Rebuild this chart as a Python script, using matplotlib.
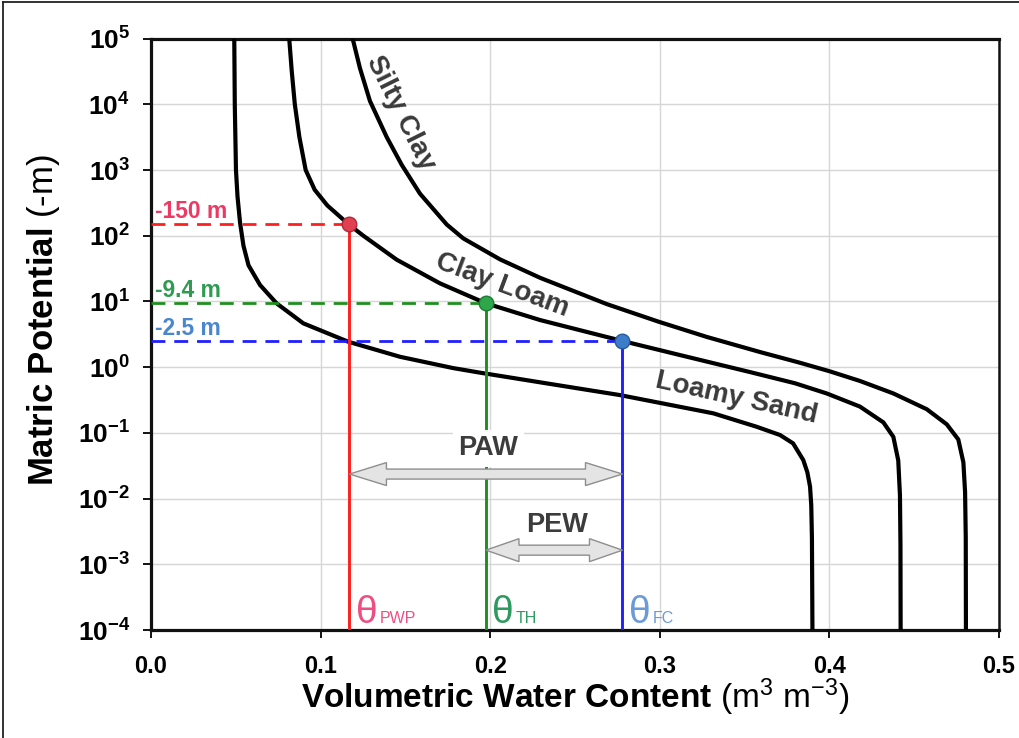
import numpy as np
import matplotlib
matplotlib.use("Agg")
import matplotlib.pyplot as plt
from matplotlib import font_manager
from matplotlib.patches import Polygon
from matplotlib.lines import Line2D
from matplotlib.transforms import IdentityTransform

# ---------------- data ----------------
# volumetric water content (m3 m-3) and log10 of matric potential (-m)
loamy_sand_theta = [0.0491, 0.0494, 0.0501, 0.0510, 0.0525, 0.0545, 0.0575, 0.0643,
                    0.0741, 0.0898, 0.1163, 0.1468, 0.1781, 0.1940, 0.2333, 0.2765,
                    0.3316, 0.3571, 0.3709, 0.3786, 0.3846, 0.3870, 0.3886, 0.3893,
                    0.3897, 0.3900]
loamy_sand_logpsi = [5.0, 4.0, 3.0, 2.6, 2.2, 1.85, 1.55, 1.25,
                     0.97, 0.667, 0.387, 0.158, -0.014, -0.084, -0.247, -0.425,
                     -0.703, -0.907, -1.033, -1.16, -1.414, -1.6, -1.82, -2.1,
                     -2.6, -4.0]

clay_loam_theta = [0.0815, 0.0830, 0.0848, 0.0875, 0.0912, 0.0965, 0.1040, 0.1167,
                   0.1252, 0.1449, 0.1704, 0.1973, 0.2294, 0.2780, 0.3119, 0.3277,
                   0.3532, 0.3797, 0.3984, 0.4180, 0.4318, 0.4377, 0.4406, 0.4416,
                   0.4419, 0.4420]
clay_loam_logpsi = [5.0, 4.5, 4.0, 3.5, 3.0, 2.7, 2.46, 2.17,
                    2.0, 1.635, 1.275, 0.973, 0.717, 0.398, 0.184, 0.085,
                    -0.075, -0.245, -0.40, -0.60, -0.84, -1.06, -1.42, -1.95,
                    -2.7, -4.0]

silty_clay_theta = [0.1189, 0.1232, 0.1291, 0.1390, 0.1478, 0.1586, 0.1744, 0.1841,
                    0.2058, 0.2294, 0.2687, 0.2995, 0.3277, 0.3591, 0.3822, 0.3998,
                    0.4180, 0.4377, 0.4574, 0.4692, 0.4760, 0.4790, 0.4800, 0.4804,
                    0.4805]
silty_clay_logpsi = [5.0, 4.55, 4.05, 3.50, 3.08, 2.64, 2.17, 1.96,
                     1.64, 1.36, 0.96, 0.69, 0.46, 0.23, 0.07, -0.06,
                     -0.21, -0.40, -0.64, -0.87, -1.10, -1.45, -1.90, -2.6,
                     -4.0]

curve_names = ["Loamy Sand", "Clay Loam", "Silty Clay"]

# key points on the Clay Loam curve
point_theta = [0.117, 0.1975, 0.278]
point_psi = [150.0, 9.4, 2.5]
point_labels = ["-150 m", "-9.4 m", "-2.5 m"]
point_subscripts = ["PWP", "TH", "FC"]

xtick_values = [0.0, 0.1, 0.2, 0.3, 0.4, 0.5]
xtick_labels = ["0.0", "0.1", "0.2", "0.3", "0.4", "0.5"]
ytick_exponents = [-4, -3, -2, -1, 0, 1, 2, 3, 4, 5]

# ---------------- fonts ----------------
names = {f.name for f in font_manager.fontManager.ttflist}
SANS = "Liberation Sans" if "Liberation Sans" in names else "DejaVu Sans"
NARROW = "Liberation Sans Narrow" if "Liberation Sans Narrow" in names else SANS
plt.rcParams["font.family"] = SANS
plt.rcParams["mathtext.fontset"] = "custom"
plt.rcParams["mathtext.rm"] = SANS
plt.rcParams["mathtext.bf"] = SANS + ":bold"
plt.rcParams["mathtext.it"] = SANS + ":italic"
plt.rcParams["mathtext.sf"] = SANS

# ---------------- styles ----------------
line_colors = ["#ff1f1f", "#1f8f1f", "#1f1fff"]
dot_face = ["#e0404f", "#2ea64a", "#3c7cc8"]
dot_edge = ["#b0283a", "#1f7a35", "#2a5a9a"]
label_colors = ["#ec3a64", "#2f9a52", "#4a86cf"]
theta_colors = ["#ee4f82", "#2f9a60", "#6a9ad8"]

W, H = 1020, 738
fig = plt.figure(figsize=(W / 100, H / 100), dpi=100)
ax = fig.add_axes([151 / W, 1 - 630 / H, (999 - 151) / W, (630 - 38.6) / H])
ax.set_yscale("log")
ax.set_xlim(0, 0.5)
ax.set_ylim(1e-4, 1e5)
ax.minorticks_off()
ax.grid(True, which="major", color="#d6d6d6", lw=1.0)
ax.set_axisbelow(True)

# curves
for th, lp in [(loamy_sand_theta, loamy_sand_logpsi),
               (clay_loam_theta, clay_loam_logpsi),
               (silty_clay_theta, silty_clay_logpsi)]:
    ax.plot(th, 10 ** np.array(lp), color="black", lw=3.0, zorder=3,
            solid_joinstyle="round")

# reference lines, dots and labels
for i in range(3):
    ax.plot([0, point_theta[i]], [point_psi[i], point_psi[i]], color=line_colors[i],
            lw=2.0, ls=(0, (5.0, 3.2)), zorder=4)
    ax.plot([point_theta[i], point_theta[i]], [1e-4, point_psi[i]], color=line_colors[i],
            lw=2.1, zorder=4)
    ax.plot([point_theta[i]], [point_psi[i]], marker="o", ms=10.5,
            mfc=dot_face[i], mec=dot_edge[i], mew=1.0, zorder=6, clip_on=False)
    ax.annotate(point_labels[i], xy=(0, point_psi[i]), xytext=(3, 4.5),
                textcoords="offset points", ha="left", va="baseline",
                fontsize=16.5, fontweight="bold", color=label_colors[i], zorder=7)
    ax.annotate("\u03b8", xy=(point_theta[i], 1.26e-4), xytext=(4.5, 0),
                textcoords="offset points", ha="left", va="baseline",
                fontsize=28, family=NARROW, color=theta_colors[i], zorder=7)
    ax.annotate(point_subscripts[i], xy=(point_theta[i], 1.26e-4), xytext=(21.5, 0),
                textcoords="offset points", ha="left", va="baseline",
                fontsize=11.5, color=theta_colors[i], zorder=7)

# curve labels
curve_label_pos = [(0.345, 10 ** -0.47, -12.5), (0.207, 10 ** 1.25, -20.5),
                   (0.1468, 10 ** 3.875, -63.5)]
for name, (x, y, rot) in zip(curve_names, curve_label_pos):
    ax.text(x, y, name, rotation=rot, rotation_mode="anchor", ha="center", va="center",
            fontsize=20, fontweight="bold", color="#3a3a3a", zorder=5)


def double_arrow(x0, x1, y, head_len, shaft_half=5.0, head_half=11.5):
    X0, Y = ax.transData.transform((x0, y))
    X1, _ = ax.transData.transform((x1, y))
    verts = [(X0, Y), (X0 + head_len, Y + head_half), (X0 + head_len, Y + shaft_half),
             (X1 - head_len, Y + shaft_half), (X1 - head_len, Y + head_half), (X1, Y),
             (X1 - head_len, Y - head_half), (X1 - head_len, Y - shaft_half),
             (X0 + head_len, Y - shaft_half), (X0 + head_len, Y - head_half)]
    poly = Polygon(verts, closed=True, facecolor="#e4e4e4", edgecolor="#8e8e8e",
                   lw=1.0, transform=IdentityTransform(), zorder=6)
    fig.add_artist(poly)


double_arrow(point_theta[0], point_theta[2], 10 ** -1.627, 37)
double_arrow(point_theta[1], point_theta[2], 10 ** -2.785, 33)
ax.text(0.1989, 10 ** -1.236, "PAW", ha="center", va="center", fontsize=19.5,
        fontweight="bold", color="#3c3c3c", zorder=5,
        bbox=dict(facecolor="white", edgecolor="none", pad=4))
ax.text(0.2392, 10 ** -2.404, "PEW", ha="center", va="center", fontsize=19.5,
        fontweight="bold", color="#3c3c3c", zorder=5)

# axes styling
for side, lw in [("left", 2.3), ("top", 2.3), ("bottom", 2.3), ("right", 1.8)]:
    ax.spines[side].set_linewidth(lw)
    ax.spines[side].set_color("#111111")
ax.set_xticks(xtick_values)
ax.set_xticklabels(xtick_labels, fontweight="bold")
ax.set_yticks([10.0 ** e for e in ytick_exponents])
ax.set_yticklabels([r"$\mathbf{10^{%d}}$" % e for e in ytick_exponents])
ax.tick_params(axis="y", direction="out", length=6, width=1.3, pad=9, labelsize=19)
ax.tick_params(axis="x", direction="out", length=6, width=1.3, pad=12, labelsize=17)

fig.text(575 / W, 1 - 708 / H,
         r"$\mathbf{Volumetric\ Water\ Content}$ (m$^{3}$ m$^{-3}$)",
         ha="center", va="baseline", fontsize=24)
fig.text(44 / W, 1 - 320 / H, r"$\mathbf{Matric\ Potential}$ (-m)",
         ha="center", va="center", rotation=90, fontsize=25)

# thin frame along the left and top image edges
fig.add_artist(Line2D([3 / W, 3 / W], [0, 1 - 2 / H], transform=fig.transFigure,
                      color="#222222", lw=1.3))
fig.add_artist(Line2D([3 / W, 1], [1 - 2 / H, 1 - 2 / H], transform=fig.transFigure,
                      color="#222222", lw=1.3))

fig.savefig("out.png", dpi=100)
